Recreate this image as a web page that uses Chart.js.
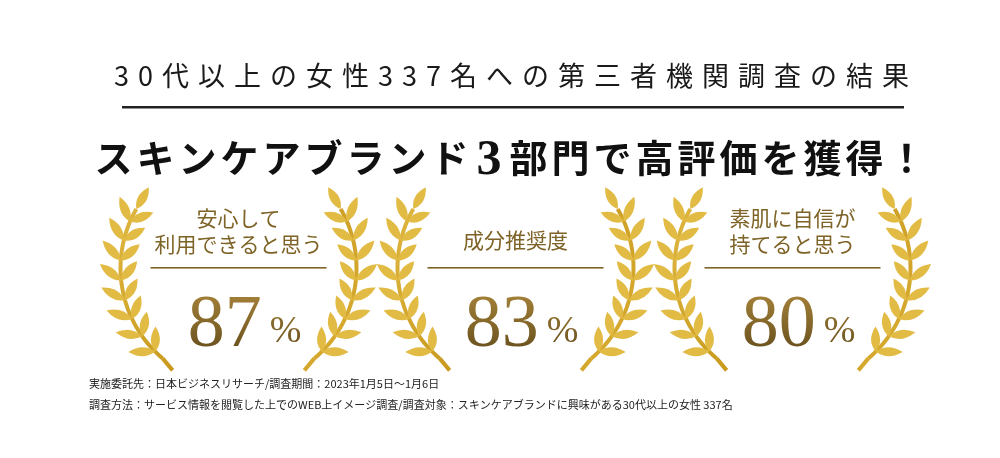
<!DOCTYPE html>
<html><head><meta charset="utf-8">
<script src="https://cdn.jsdelivr.net/npm/chart.js@4"></script>
<style>html,body{margin:0;padding:0;background:#fff}#wrap{width:1000px;height:458px}</style>
</head><body><div id="wrap"><canvas id="c"></canvas></div>
<script>
const categories = [["安心して","利用できると思う"], ["成分推奨度"], ["素肌に自信が","持てると思う"]];
const values = [87, 83, 80];
const titleText = "30代以上の女性337名への第三者機関調査の結果";
const subtitleParts = ["スキンケアブランド", "3", "部門で高評価を獲得！"];
const notes = ["実施委託先：日本ビジネスリサーチ/調査期間：2023年1月5日～1月6日",
               "調査方法：サービス情報を閲覧した上でのWEB上イメージ調査/調査対象：スキンケアブランドに興味がある30代以上の女性 337名"];

const JP = '"Noto Sans CJK JP"';
const SERIF = '"Liberation Serif","DejaVu Serif",serif';

function leaf(ctx, x, y, ang, len, wid){
  ctx.save(); ctx.translate(x,y); ctx.rotate(ang);
  ctx.beginPath(); ctx.moveTo(0,0);
  ctx.quadraticCurveTo(len*0.45, -wid, len, 0);
  ctx.quadraticCurveTo(len*0.45, wid, 0, 0);
  ctx.fill(); ctx.restore();
}
function laurel(ctx, cx, cy, side){
  const r = 118;
  const grad = ctx.createLinearGradient(cx-130, cy-90, cx+130, cy+90);
  grad.addColorStop(0,'#e2bb45'); grad.addColorStop(0.5,'#c99a1e'); grad.addColorStop(1,'#d9ad33');
  ctx.fillStyle = grad; ctx.strokeStyle = grad;
  const a0 = 130*Math.PI/180, a1 = 210*Math.PI/180;
  const pt = a => { let x = r*Math.cos(a), y = r*Math.sin(a); if(side>0) x=-x; return [cx+x, cy+y]; };
  ctx.lineWidth = 4; ctx.beginPath();
  for(let i=0;i<=40;i++){ const a=a0+(a1-a0)*i/40; const p=pt(a); i?ctx.lineTo(p[0],p[1]):ctx.moveTo(p[0],p[1]); }
  ctx.stroke();
  const e=pt(a0); ctx.beginPath(); ctx.moveTo(e[0],e[1]); ctx.lineTo(e[0]+(side>0?-10:10),e[1]+12); ctx.stroke();
  const n=8;
  for(let i=0;i<n;i++){
    const a=a0+(a1-a0)*(i+0.5)/(n+0.2);
    const p=pt(a);
    let tx=-Math.sin(a), ty=Math.cos(a); if(side>0) tx=-tx;
    let dir = Math.atan2(ty, tx);
    leaf(ctx,p[0],p[1],dir-0.8*(side>0?-1:1), 27, 9);
    leaf(ctx,p[0],p[1],dir+0.8*(side>0?-1:1), 25, 9);
  }
  const top=pt(a1); let tx=-Math.sin(a1), ty=Math.cos(a1); if(side>0) tx=-tx;
  leaf(ctx,top[0],top[1],Math.atan2(ty,tx),25,9);
}

const deco = {
  id:'deco',
  afterDraw(chart){
    const ctx = chart.ctx; const xs = chart.scales.x;
    ctx.save();
    ctx.textBaseline='alphabetic'; ctx.textAlign='center'; ctx.fillStyle='#1a1a1a';
    ctx.font = '27px '+JP; ctx.letterSpacing='9px'; ctx.fillText(titleText, 516, 86);
    ctx.letterSpacing='0px';
    ctx.fillStyle='#222'; ctx.fillRect(122,106,782,2.5);
    const f1='bold 38px '+JP, f2='bold 50px '+SERIF;
    ctx.letterSpacing='4px';
    ctx.font=f1; const w1=ctx.measureText(subtitleParts[0]).width, w3=ctx.measureText(subtitleParts[2]).width;
    ctx.font=f2; const w2=ctx.measureText(subtitleParts[1]).width+8;
    let x = 512-(w1+w2+w3)/2; ctx.textAlign='left'; ctx.fillStyle='#111';
    ctx.font=f1; ctx.fillText(subtitleParts[0],x,172); x+=w1+4;
    ctx.font=f2; ctx.fillText(subtitleParts[1],x,174); x+=w2-4;
    ctx.font=f1; ctx.fillText(subtitleParts[2],x,172);
    ctx.letterSpacing='0px';
    values.forEach((v,i)=>{
      const cx = xs.getPixelForValue(i);
      laurel(ctx,cx,268,-1); laurel(ctx,cx,268,1);
      ctx.textAlign='center'; ctx.fillStyle='#7e6326';
      ctx.font='21px '+JP;
      const lab=categories[i];
      if(lab.length===2){ ctx.fillText(lab[0],cx,226); ctx.fillText(lab[1],cx,252); }
      else ctx.fillText(lab[0],cx,248);
      ctx.fillRect(cx-88,267,176,1.6);
      const g = ctx.createLinearGradient(0,290,0,345);
      g.addColorStop(0,'#a8843a'); g.addColorStop(1,'#6e5520');
      ctx.fillStyle=g; ctx.font='74px '+SERIF;
      const s=String(v); const ws=ctx.measureText(s).width+8;
      ctx.font='38px '+SERIF; const wp=ctx.measureText('%').width;
      let sx=cx-(ws+wp)/2+6; ctx.textAlign='left';
      ctx.font='74px '+SERIF; ctx.fillText(s,sx,346);
      ctx.font='38px '+SERIF; ctx.fillText('%',sx+ws,342);
    });
    ctx.textAlign='left'; ctx.fillStyle='#222'; ctx.font='11px '+JP;
    ctx.fillText(notes[0],89,388); ctx.fillText(notes[1],89,409);
    ctx.restore();
  }
};

new Chart(document.getElementById('c'),{
  type:'bar',
  data:{labels:categories.map(c=>c.join('')),datasets:[{data:values,backgroundColor:'rgba(0,0,0,0)',borderWidth:0}]},
  options:{responsive:true,maintainAspectRatio:false,animation:false,
    layout:{padding:{left:100,right:69,top:290,bottom:110}},
    plugins:{legend:{display:false},tooltip:{enabled:false}},
    scales:{x:{display:false},y:{display:false,min:0,max:100}}},
  plugins:[deco]
});
</script></body></html>
